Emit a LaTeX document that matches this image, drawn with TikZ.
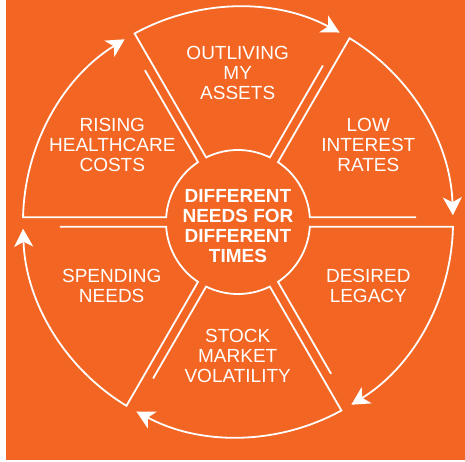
\documentclass[tikz,border=0pt]{standalone}
\usepackage{fontspec}
\setmainfont{Liberation Sans}
\usetikzlibrary{arrows.meta}
\usetikzlibrary{calc}
\definecolor{wheelorange}{RGB}{242,101,34}
\tikzset{wheel/.style={draw=white, line width=1.8pt}}
\tikzset{turn/.style={-{Stealth[length=18pt,width=19pt,inset=5pt]}}}
\tikzset{need/.style={text=white, align=center, font=\fontsize{19}{20}\selectfont}}
\tikzset{hub/.style={need, font=\bfseries\fontsize{19}{20}\selectfont}}

\begin{document}
\begin{tikzpicture}
    \useasboundingbox[fill=white] (-238pt,-239pt) rectangle (227pt,222pt);
    \fill[wheelorange] (-232pt,-238pt) rectangle (227pt,222pt);
    \foreach \a in {120,60,0,-60,-120,180} {
        \begin{scope}[rotate=\a]
            \draw[wheel, turn] ($(-60:178pt)+(30:4.7pt)$) -- ($(-60:71.85pt)+(30:4.7pt)$)
                arc[start angle=-56.26, end angle=-3.74, radius=72pt]
                -- (214.95pt,-4.7pt)
                arc[start angle=-1.25, end angle=-58.2, radius=215pt];
        \end{scope}
    }
    \node[hub] (times) at (0pt,-4.3pt) {DIFFERENT\\NEEDS FOR\\DIFFERENT\\TIMES};
    \node[need] (assets) at (-0.3pt,149pt) {OUTLIVING\\MY\\ASSETS};
    \node[need] (rates) at (130.3pt,77pt) {LOW\\INTEREST\\RATES};
    \node[need] (legacy) at (130.3pt,-63.7pt) {DESIRED\\LEGACY};
    \node[need] (stock) at (-0.3pt,-134pt) {STOCK\\MARKET\\VOLATILITY};
    \node[need] (spending) at (-126.3pt,-63.7pt) {SPENDING\\NEEDS};
    \node[need] (health) at (-125.7pt,77pt) {RISING\\HEALTHCARE\\COSTS};
\end{tikzpicture}
\end{document}
